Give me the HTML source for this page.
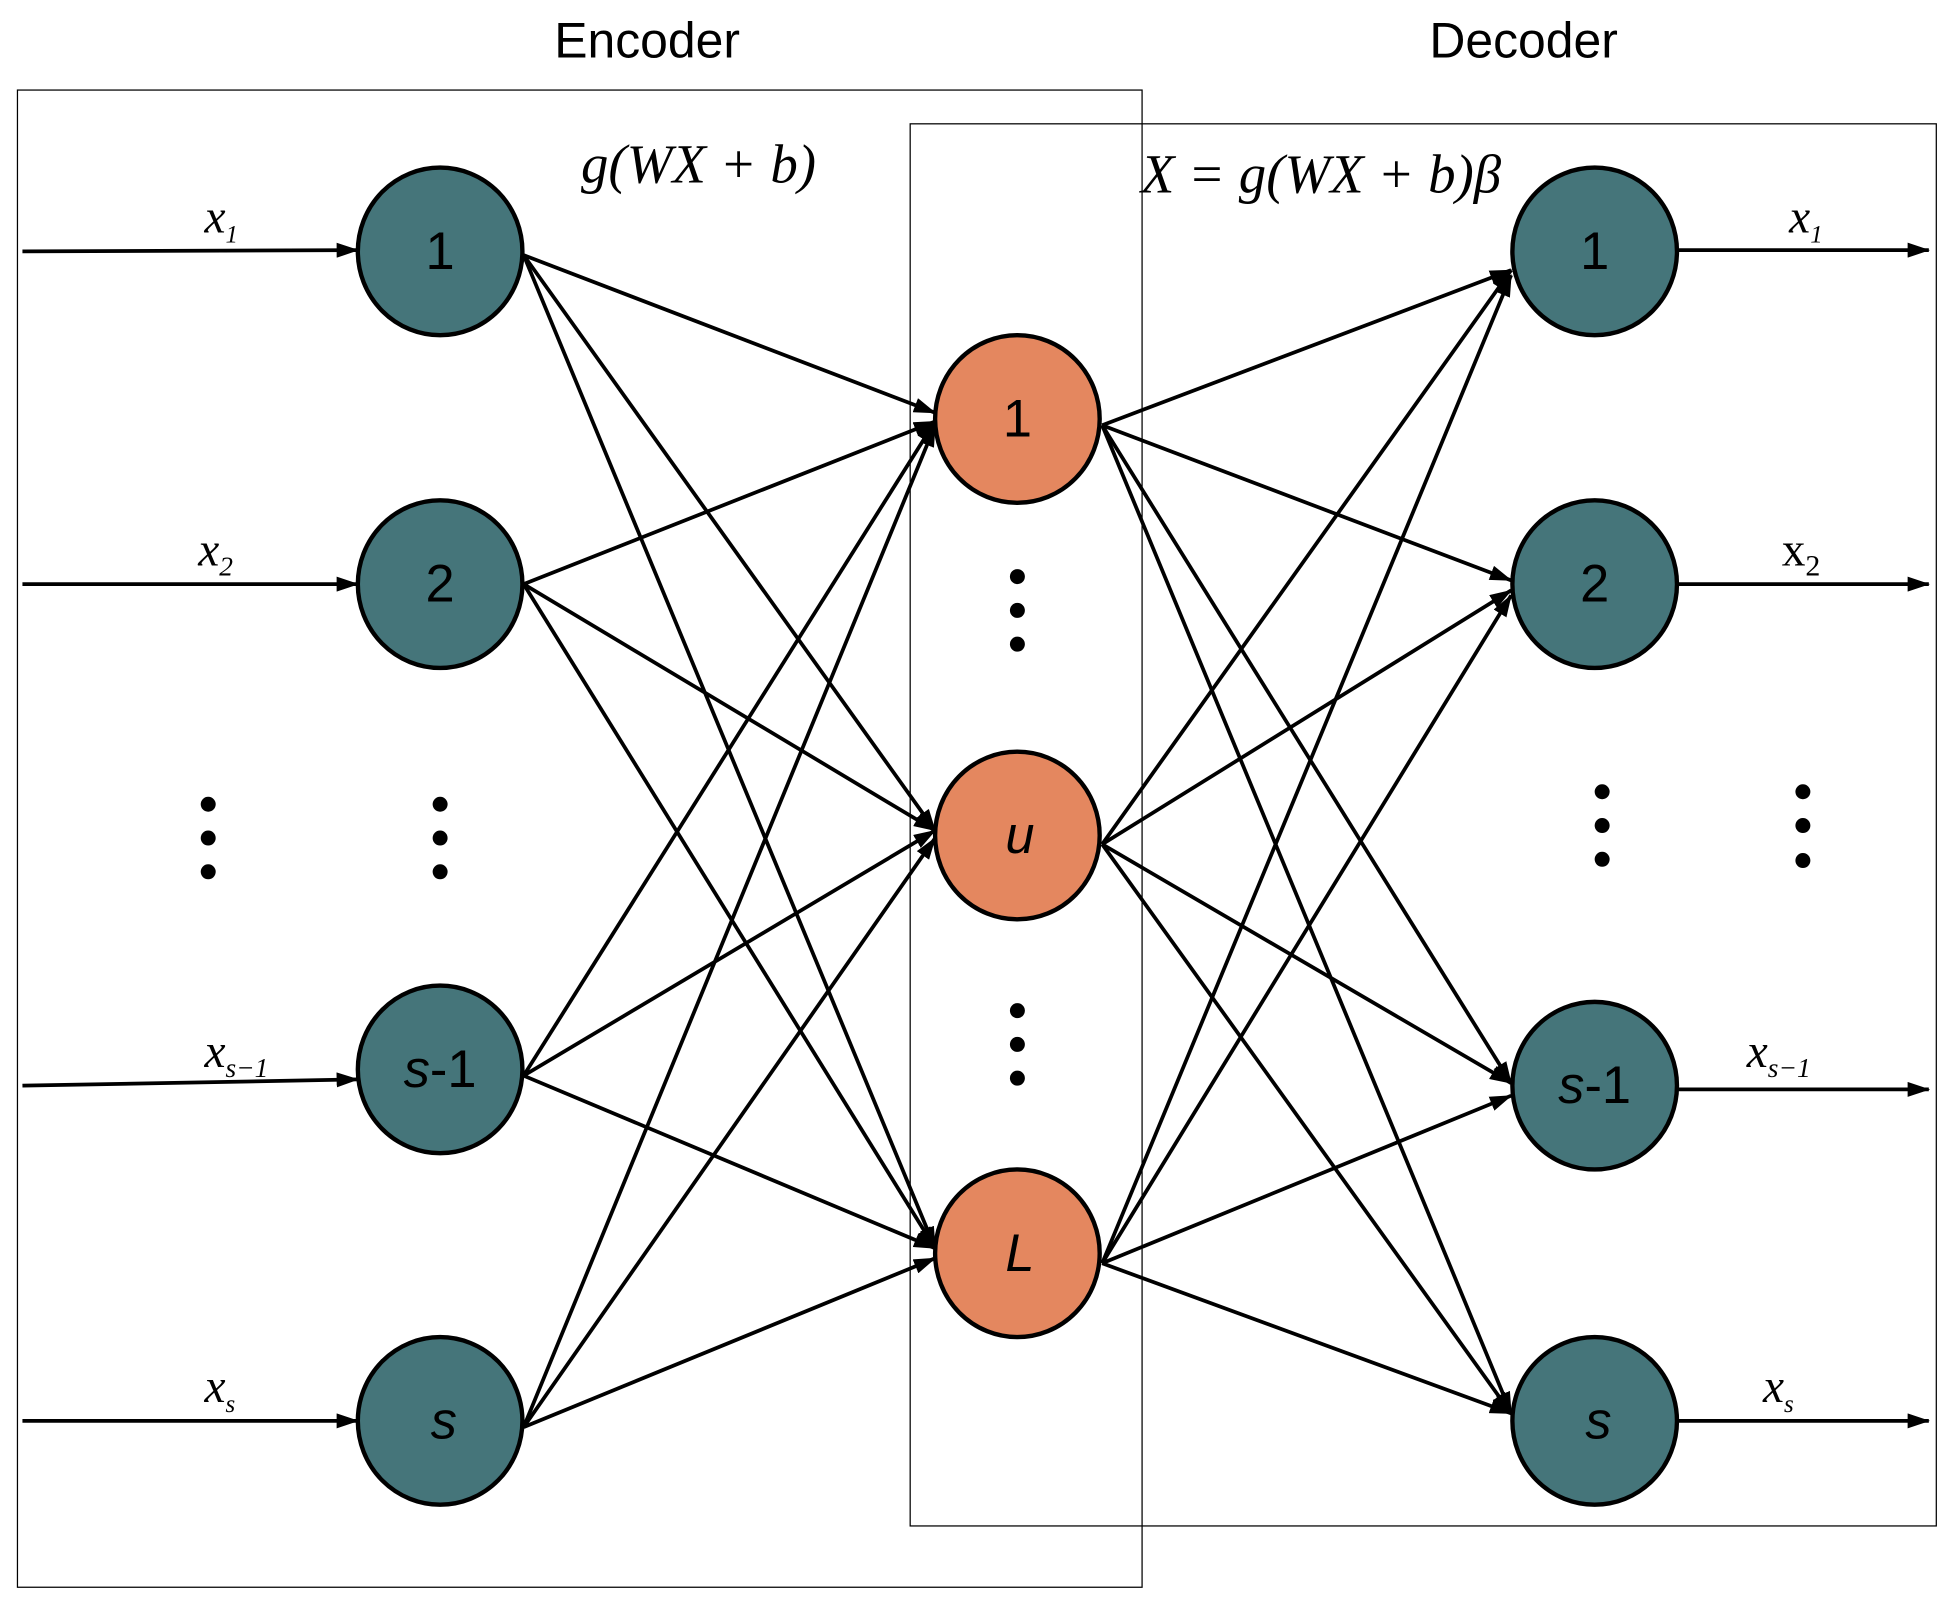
<!DOCTYPE html>
<html><head><meta charset="utf-8"><style>
html,body{margin:0;padding:0;background:#fff;}
svg{display:block;}
.sans{font-family:"Liberation Sans",sans-serif;}
.ser{font-family:"Liberation Serif",serif;font-style:italic;}
</style></head><body>
<svg width="1955" height="1601" viewBox="0 0 1568 1280" preserveAspectRatio="none" xmlns="http://www.w3.org/2000/svg">
<defs>
<marker id="b" markerWidth="18" markerHeight="12" refX="17" refY="6" orient="auto" markerUnits="userSpaceOnUse" viewBox="0 0 18 12">
<path d="M0,0 L18,6 L0,12 z" fill="#000"/></marker>
</defs>
<text x="519" y="46" text-anchor="middle" class="sans" font-size="40">Encoder</text>
<text x="1222" y="46" text-anchor="middle" class="sans" font-size="40">Decoder</text>
<rect x="14" y="72" width="902" height="1197" fill="none" stroke="#000" stroke-width="1"/>
<rect x="730" y="99" width="823" height="1121" fill="none" stroke="#000" stroke-width="1"/>
<text x="466" y="146" class="ser" font-size="44">g(WX + b)</text>
<text x="915" y="154" class="ser" font-size="44">X = g(WX + b)β</text>
<g stroke="#000" stroke-width="3" marker-end="url(#b)">
<line x1="420" y1="204" x2="750" y2="330"/><line x1="420" y1="204" x2="750" y2="664"/><line x1="420" y1="204" x2="750" y2="998"/>
<line x1="420" y1="467" x2="750" y2="337"/><line x1="420" y1="467" x2="750" y2="664"/><line x1="420" y1="467" x2="750" y2="998"/>
<line x1="420" y1="860" x2="750" y2="337"/><line x1="420" y1="860" x2="750" y2="664"/><line x1="420" y1="860" x2="750" y2="998"/>
<line x1="420" y1="1141" x2="750" y2="340"/><line x1="420" y1="1141" x2="750" y2="670"/><line x1="420" y1="1141" x2="750" y2="1006"/>
<line x1="884" y1="340" x2="1212" y2="216"/><line x1="884" y1="340" x2="1212" y2="464"/><line x1="884" y1="340" x2="1212" y2="866"/><line x1="884" y1="340" x2="1212" y2="1130"/>
<line x1="884" y1="675" x2="1212" y2="216"/><line x1="884" y1="675" x2="1212" y2="472"/><line x1="884" y1="675" x2="1212" y2="866"/><line x1="884" y1="675" x2="1212" y2="1130"/>
<line x1="884" y1="1010" x2="1212" y2="220"/><line x1="884" y1="1010" x2="1212" y2="476"/><line x1="884" y1="1010" x2="1212" y2="876"/><line x1="884" y1="1010" x2="1212" y2="1130"/>
<line x1="18" y1="201" x2="287" y2="200"/><line x1="18" y1="467" x2="287" y2="467"/><line x1="18" y1="868" x2="287" y2="863"/><line x1="18" y1="1136" x2="287" y2="1136"/>
<line x1="1346" y1="200" x2="1547" y2="200"/><line x1="1346" y1="467" x2="1547" y2="467"/><line x1="1346" y1="871" x2="1547" y2="871"/><line x1="1346" y1="1136" x2="1547" y2="1136"/>
</g>
<g stroke="#000" stroke-width="3.5" fill="#45757A">
<ellipse cx="353" cy="201" rx="66" ry="67"/><ellipse cx="353" cy="467" rx="66" ry="67"/><ellipse cx="353" cy="855" rx="66" ry="67"/><ellipse cx="353" cy="1136" rx="66" ry="67"/>
<ellipse cx="1279" cy="201" rx="66" ry="67"/><ellipse cx="1279" cy="467" rx="66" ry="67"/><ellipse cx="1279" cy="868" rx="66" ry="67"/><ellipse cx="1279" cy="1136" rx="66" ry="67"/>
</g>
<g stroke="#000" stroke-width="3.5" fill="#E4875F">
<ellipse cx="816" cy="335" rx="66" ry="67"/><ellipse cx="816" cy="668" rx="66" ry="67"/><ellipse cx="816" cy="1002" rx="66" ry="67"/>
</g>
<g class="sans" font-size="42" text-anchor="middle">
<text x="353" y="215">1</text><text x="353" y="481">2</text>
<text x="353" y="869"><tspan font-style="italic">s</tspan>-1</text>
<text x="356" y="1150" font-style="italic">s</text>
<text x="1279" y="215">1</text><text x="1279" y="481">2</text>
<text x="1279" y="882"><tspan font-style="italic">s</tspan>-1</text>
<text x="1282" y="1150" font-style="italic">s</text>
<text x="816" y="349">1</text>
<text x="818" y="682" font-style="italic">u</text>
<text x="818" y="1016" font-style="italic">L</text>
</g>
<g fill="#000">
<circle cx="167" cy="643" r="6"/><circle cx="167" cy="670" r="6"/><circle cx="167" cy="697" r="6"/>
<circle cx="353" cy="643" r="6"/><circle cx="353" cy="670" r="6"/><circle cx="353" cy="697" r="6"/>
<circle cx="816" cy="461" r="6"/><circle cx="816" cy="488" r="6"/><circle cx="816" cy="515" r="6"/>
<circle cx="816" cy="808" r="6"/><circle cx="816" cy="835" r="6"/><circle cx="816" cy="862" r="6"/>
<circle cx="1285" cy="633" r="6"/><circle cx="1285" cy="660" r="6"/><circle cx="1285" cy="687" r="6"/>
<circle cx="1446" cy="633" r="6"/><circle cx="1446" cy="660" r="6"/><circle cx="1446" cy="688" r="6"/>
</g>
<g class="ser" font-size="38">
<text x="164" y="186">x<tspan font-size="20" dy="8">1</tspan></text>
<text x="159" y="452">x<tspan font-size="22" dy="8">2</tspan></text>
<text x="164" y="853">x<tspan font-size="22" dy="8">s−1</tspan></text>
<text x="164" y="1121">x<tspan font-size="20" dy="8">s</tspan></text>
<text x="1435" y="186">x<tspan font-size="20" dy="8">1</tspan></text>
<text x="1429" y="452" font-style="normal">x<tspan font-size="24" dy="8">2</tspan></text>
<text x="1401" y="853">x<tspan font-size="22" dy="8">s−1</tspan></text>
<text x="1414" y="1121">x<tspan font-size="20" dy="8">s</tspan></text>
</g>
</svg>
</body></html>
